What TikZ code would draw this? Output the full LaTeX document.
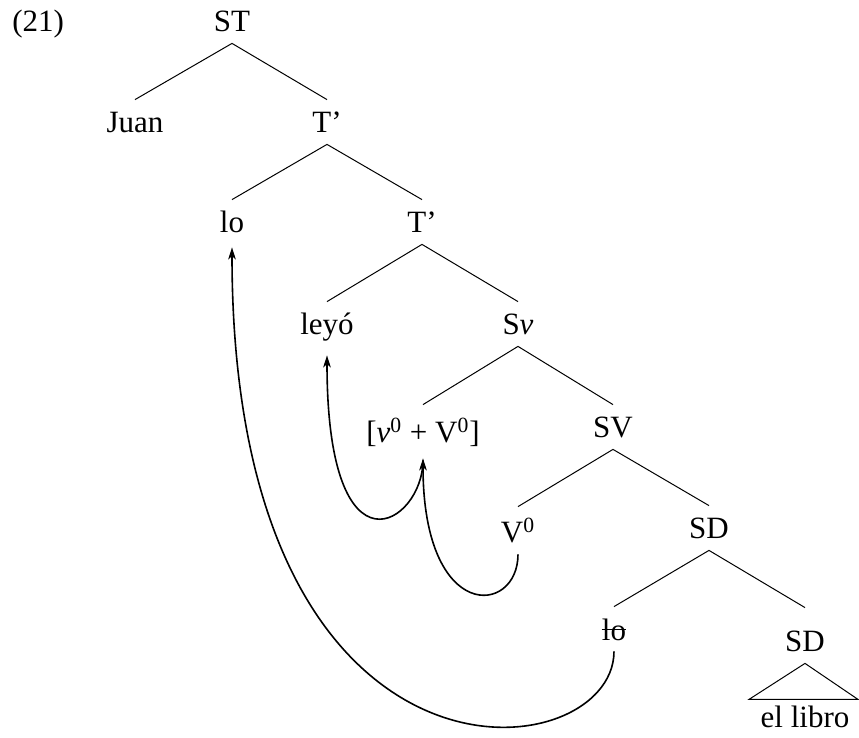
\documentclass[tikz,border=0pt]{standalone}
\usepackage{fontspec}
\setmainfont{Liberation Serif}
\usetikzlibrary{arrows.meta}
\begin{document}
\begin{tikzpicture}[x=0.5pt,y=-0.5pt,
  tn/.style={inner sep=0pt,anchor=base,text height=16.5pt,text depth=5.5pt,font=\fontsize{15.5pt}{18pt}\selectfont},
  edge/.style={line width=0.5pt},
  mv/.style={line width=0.8pt,-{Stealth[length=6pt,width=3.8pt,inset=1.6pt]}}]
\useasboundingbox (0,0) rectangle (859,738);
\node[tn,anchor=base west] (ex) at (12,32) {(21)};
\node[tn] (st) at (232,32) {ST};
\node[tn] (juan) at (135,133) {Juan};
\node[tn] (tb1) at (327,133) {T'};
\node[tn] (lo) at (232,233) {lo};
\node[tn] (tb2) at (422,233) {T'};
\node[tn] (leyo) at (327,335) {leyó};
\node[tn] (sv) at (518,335) {S\textit{v}};
\node[tn,text height=19pt] (vV) at (423,443) {[\textit{v}\textsuperscript{0} + V\textsuperscript{0}]};
\node[tn] (SV) at (613,438) {SV};
\node[tn,text height=18pt] (V0) at (518,543) {V\textsuperscript{0}};
\node[tn] (sd1) at (709,539) {SD};
\node[tn] (lot) at (614,640) {lo};
\node[tn,text height=22pt] (sd2) at (805,652) {SD};
\node[tn] (lib) at (805,728) {el libro};
\draw[edge] (st.south) -- (juan.north);
\draw[edge] (st.south) -- (tb1.north);
\draw[edge] (tb1.south) -- (lo.north);
\draw[edge] (tb1.south) -- (tb2.north);
\draw[edge] (tb2.south) -- (leyo.north);
\draw[edge] (tb2.south) -- (sv.north);
\draw[edge] (sv.south) -- (vV.north);
\draw[edge] (sv.south) -- (SV.north);
\draw[edge] (SV.south) -- (V0.north);
\draw[edge] (SV.south) -- (sd1.north);
\draw[edge] (sd1.south) -- (lot.north);
\draw[edge] (sd1.south) -- (sd2.north);
\draw[edge] (sd2.south) -- ++(-56,36) -- ++(109,0) -- cycle;
\draw[line width=0.5pt] ([yshift=5pt]lot.base west) -- ([yshift=5pt]lot.base east);
\draw[mv] (lot.south) .. controls +(0,120) and +(0,570) .. ([yshift=-1.5pt]lo.south);
\draw[mv] (V0.south) .. controls +(0,61) and +(0,166) .. ([yshift=-2pt]vV.south);
\draw[mv] ([yshift=-3pt]vV.south) .. controls +(0,63) and +(0,230) .. ([yshift=-4.5pt]leyo.south);
\end{tikzpicture}
\end{document}
